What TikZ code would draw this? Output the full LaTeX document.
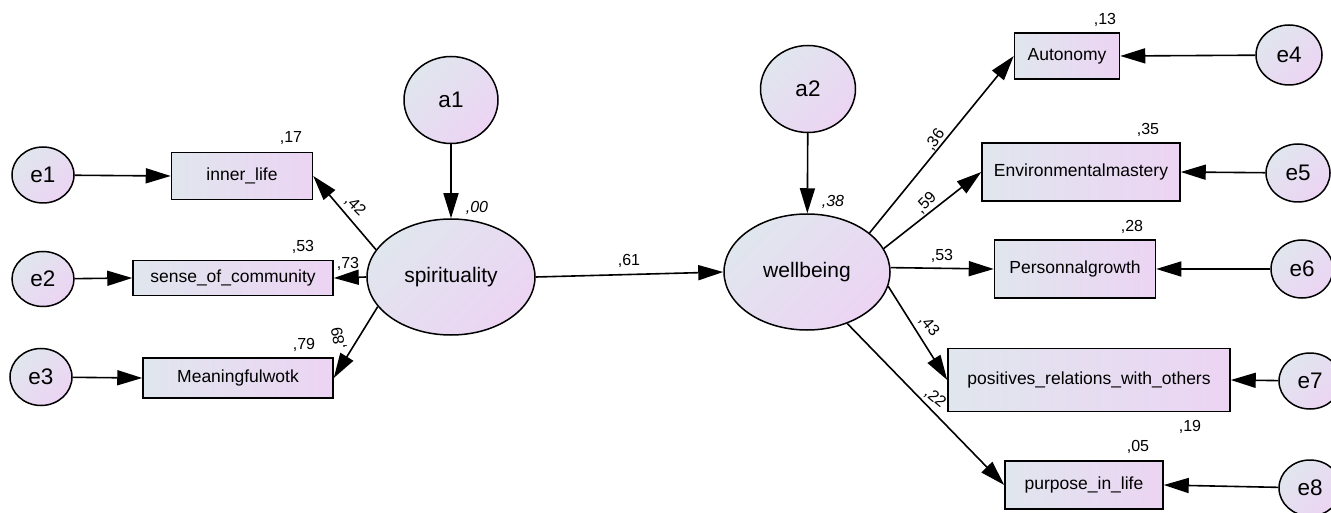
\documentclass[tikz,border=0pt]{standalone}
\usepackage{fontspec}
\setmainfont{Liberation Sans}
\usetikzlibrary{shapes.geometric,arrows.meta}
\definecolor{cA}{RGB}{224,230,238}
\definecolor{cB}{RGB}{236,212,243}
\tikzset{
  lat/.style={ellipse, draw=black, line width=1.5pt, inner sep=0pt,
    top color=cA, bottom color=cB, shading angle=45,
    font=\fontsize{21}{21}\selectfont},
  err/.style={lat, font=\fontsize{22.5}{22.5}\selectfont},
  obs/.style={rectangle, draw=black, line width=1.5pt, inner sep=0pt,
    left color=cA, right color=cB,
    font=\fontsize{17.5}{17.5}\selectfont},
  arr/.style={line width=1.6pt, -{Triangle[length=25pt,width=15pt]}},
  lab/.style={inner sep=0pt, font=\fontsize{16}{16}\selectfont},
  ilab/.style={lab, font=\fontsize{16}{16}\selectfont\itshape}
}
\begin{document}
\begin{tikzpicture}[x=1pt,y=-1pt]
\useasboundingbox (0,0) rectangle (1331,513);
% latent / error ellipses
\node[err, minimum width=62pt, minimum height=56pt] (e1) at (43,175) {e1};
\node[err, minimum width=62pt, minimum height=55pt] (e2) at (43,279) {e2};
\node[err, minimum width=62pt, minimum height=57pt] (e3) at (41,377) {e3};
\node[err, minimum width=94pt, minimum height=87pt] (a1) at (451,100) {a1};
\node[lat, minimum width=168pt, minimum height=116pt] (sp) at (451,277) {spirituality};
\node[err, minimum width=95pt, minimum height=87pt] (a2) at (808,89) {a2};
\node[lat, minimum width=166pt, minimum height=116pt] (wb) at (807,272) {wellbeing};
\node[err, minimum width=66pt, minimum height=60pt] (e4) at (1289,55) {e4};
\node[err, minimum width=64pt, minimum height=58pt] (e5) at (1298,173) {e5};
\node[err, minimum width=62pt, minimum height=58pt] (e6) at (1302,269) {e6};
\node[err, minimum width=62pt, minimum height=56pt] (e7) at (1310,381) {e7};
\node[err, minimum width=62pt, minimum height=56pt] (e8) at (1310,488) {e8};
% observed boxes
\node[obs, minimum width=141pt, minimum height=47pt] (inner) at (242,176) {inner\_life};
\node[obs, minimum width=200pt, minimum height=35pt] (sense) at (233,278) {sense\_of\_community};
\node[obs, minimum width=190pt, minimum height=40pt] (mean) at (238,378) {Meaningfulwotk};
\node[obs, minimum width=105pt, minimum height=46pt] (auto) at (1067,56) {Autonomy};
\node[obs, minimum width=198pt, minimum height=58pt] (env) at (1081,172) {Environmentalmastery};
\node[obs, minimum width=161pt, minimum height=58pt] (pg) at (1075,269) {Personnalgrowth};
\node[obs, minimum width=282pt, minimum height=63pt] (pos) at (1089,380) {positives\_relations\_with\_others};
\node[obs, minimum width=158pt, minimum height=48pt] (purp) at (1084,485) {purpose\_in\_life};
% error arrows
\draw[arr] (e1) -- (inner.west);
\draw[arr] (e2) -- (sense.west);
\draw[arr] (e3) -- (mean.west);
\draw[arr] (e4) -- (auto.east);
\draw[arr] (e5) -- (env.east);
\draw[arr] (e6) -- (pg.east);
\draw[arr] (e7) -- (pos.east);
\draw[arr] (e8) -- (purp.east);
\draw[arr] (a1) -- (sp);
\draw[arr] (a2) -- (wb);
% loadings
\draw[arr] (sp.160) -- (inner.east);
\draw[arr] (sp.west) -- (sense.east);
\draw[arr] (sp.-158) -- (mean.east);
\draw[arr] (sp.east) -- (wb.west);
\draw[arr] (wb.32) -- (auto.west);
\draw[arr] (wb.17) -- (env.west);
\draw[arr] (wb.3) -- (pg.west);
\draw[arr] (wb.-10) -- (pos.west);
\draw[arr] (wb.-52) -- (purp.west);
% labels
\node[lab] (l17) at (291,138) {,17};
\node[lab] (l53a) at (303,247) {,53};
\node[lab] (l79) at (304,345) {,79};
\node[lab, rotate=-45] (l42) at (355,206) {,42};
\node[lab] (l73) at (348,264) {,73};
\node[lab, rotate=100] (l89) at (339,338) {,89};
\node[ilab] (l00) at (477,208) {,00};
\node[lab] (l61) at (629,261) {,61};
\node[ilab] (l38) at (833,202) {,38};
\node[lab, rotate=55] (l36) at (935,140) {,36};
\node[lab, rotate=45] (l59) at (926,203) {,59};
\node[lab] (l53b) at (942,256) {,53};
\node[lab, rotate=-50] (l43) at (929,326) {,43};
\node[lab, rotate=-40] (l22) at (935,398) {,22};
\node[lab] (l13) at (1105,20) {,13};
\node[lab] (l35) at (1148,130) {,35};
\node[lab] (l28) at (1132,227) {,28};
\node[lab] (l19) at (1190,427) {,19};
\node[lab] (l05) at (1138,447) {,05};
\end{tikzpicture}
\end{document}
